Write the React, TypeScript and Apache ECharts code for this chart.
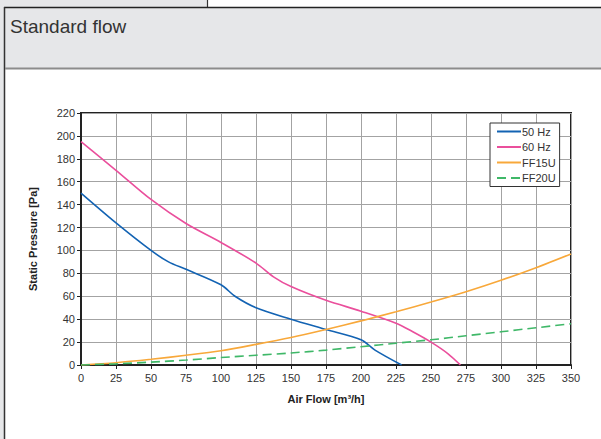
import React, { useEffect, useRef } from "react";
import * as echarts from "echarts";

const xTicks = [0, 25, 50, 75, 100, 125, 150, 175, 200, 225, 250, 275, 300, 325, 350];
const yTicks = [0, 20, 40, 60, 80, 100, 120, 140, 160, 180, 200, 220];

const hz50X = [0, 25, 50, 62.5, 75, 100, 110, 125, 150, 175, 200, 210, 229];
const hz50Y = [150, 124, 100, 90, 83.5, 70, 60, 50, 40, 31, 22, 13, 0];

const hz60X = [0, 25, 50, 75, 100, 125, 137.5, 150, 175, 200, 225, 237, 250, 262, 271];
const hz60Y = [195, 170, 144.5, 123.5, 107, 89, 77, 68.5, 56.5, 47, 36.5, 29, 20, 10, 0];

const ff15X = [0, 25, 50, 75, 100, 125, 150, 175, 200, 225, 250, 275, 300, 325, 350];
const ff15Y = [0, 2, 5, 8.5, 12.5, 18, 24, 31, 38.5, 46.5, 55, 64, 74, 85, 97];

const ff20X = [0, 25, 50, 75, 100, 125, 150, 175, 200, 225, 250, 275, 300, 325, 350];
const ff20Y = [0, 1, 2.5, 4.3, 6.5, 8.5, 10.5, 13, 16, 19, 22, 25.5, 29, 32.5, 36];

const seriesNames = ["50 Hz", "60 Hz", "FF15U", "FF20U"];
const colors = ["#1363b3", "#ea4f9c", "#f8a83a", "#3fb868"];

const pairs = (xs: number[], ys: number[]) => xs.map((x, i) => [x, ys[i]]);

export default function App() {
  const ref = useRef<HTMLDivElement>(null);
  useEffect(() => {
    if (!ref.current) return;
    const chart = echarts.init(ref.current, null, { renderer: "svg" });
    const font = "'Liberation Sans', Arial, Helvetica, sans-serif";
    const datasets = [pairs(hz50X, hz50Y), pairs(hz60X, hz60Y), pairs(ff15X, ff15Y), pairs(ff20X, ff20Y)];
    chart.setOption({
      animation: false,
      backgroundColor: "#ffffff",
      textStyle: { fontFamily: font },
      title: {
        text: "Standard flow",
        left: 10,
        top: 17,
        padding: 0,
        textStyle: { fontSize: 19, fontWeight: "normal", color: "#333333", fontFamily: font },
      },
      graphic: [
        { type: "rect", z: -10, shape: { x: 0, y: 0, width: 4, height: 439 }, style: { fill: "#e6e7e9" } },
        { type: "rect", z: -10, shape: { x: 0, y: 0, width: 207, height: 8 }, style: { fill: "#e6e7e9" } },
        { type: "line", z: -9, shape: { x1: 207.5, y1: 0, x2: 207.5, y2: 7 }, style: { stroke: "#333", lineWidth: 1.2 } },
        { type: "rect", z: -10, shape: { x: 4, y: 7, width: 597, height: 61 }, style: { fill: "#e6e7e9" } },
        { type: "line", z: -9, shape: { x1: 4, y1: 7.5, x2: 601, y2: 7.5 }, style: { stroke: "#222", lineWidth: 1.5 } },
        { type: "line", z: -9, shape: { x1: 4.5, y1: 7, x2: 4.5, y2: 439 }, style: { stroke: "#333", lineWidth: 1.5 } },
        { type: "line", z: -9, shape: { x1: 5, y1: 68.5, x2: 601, y2: 68.5 }, style: { stroke: "#8c8c8c", lineWidth: 2 } },
      ],
      grid: {
        left: 81,
        right: 30,
        top: 113,
        bottom: 74,
        show: true,
        borderColor: "#222",
        borderWidth: 2,
        backgroundColor: "transparent",
      },
      legend: {
        data: seriesNames,
        orient: "vertical",
        left: 490,
        top: 123,
        backgroundColor: "#ffffff",
        borderColor: "#333",
        borderWidth: 1,
        borderRadius: 0,
        padding: [3, 4, 3, 6],
        itemWidth: 24,
        itemHeight: 12,
        itemGap: 4.5,
        itemStyle: { opacity: 0 },
        textStyle: { fontSize: 11, color: "#333", padding: [0, 0, 0, -4], fontFamily: font },
      },
      xAxis: {
        type: "value",
        min: 0,
        max: 350,
        interval: 25,
        name: "Air Flow [m³/h]",
        nameLocation: "middle",
        nameGap: 28,
        nameTextStyle: { fontSize: 11, fontWeight: "bold", color: "#222" },
        axisLine: { show: true, lineStyle: { color: "#222", width: 2 } },
        axisTick: { show: true, length: 4, lineStyle: { color: "#222", width: 1 } },
        axisLabel: { fontSize: 11, color: "#333", margin: 7 },
        splitLine: { show: true, lineStyle: { color: "#a3a3a3", width: 1 } },
      },
      yAxis: {
        type: "value",
        min: 0,
        max: 220,
        interval: 20,
        name: "Static Pressure [Pa]",
        nameLocation: "middle",
        nameGap: 43,
        nameTextStyle: { fontSize: 11, fontWeight: "bold", color: "#222" },
        axisLine: { show: true, lineStyle: { color: "#222", width: 2 } },
        axisTick: { show: true, length: 4, lineStyle: { color: "#222", width: 1 } },
        axisLabel: { fontSize: 11, color: "#333", margin: 6 },
        splitLine: { show: true, lineStyle: { color: "#a3a3a3", width: 1 } },
      },
      series: seriesNames.map((name, i) => ({
        name,
        type: "line",
        data: datasets[i],
        smooth: 0.3,
        symbol: "none",
        showSymbol: false,
        color: colors[i],
        lineStyle: { color: colors[i], width: 1.6, type: i === 3 ? [9, 5] : "solid" },
        z: 5,
      })),
    });
    return () => chart.dispose();
  }, []);
  return (
    <div style={{ position: "fixed", left: 0, top: 0, width: 601, height: 439, background: "#fff" }}>
      <div ref={ref} style={{ width: 601, height: 439 }} />
    </div>
  );
}
